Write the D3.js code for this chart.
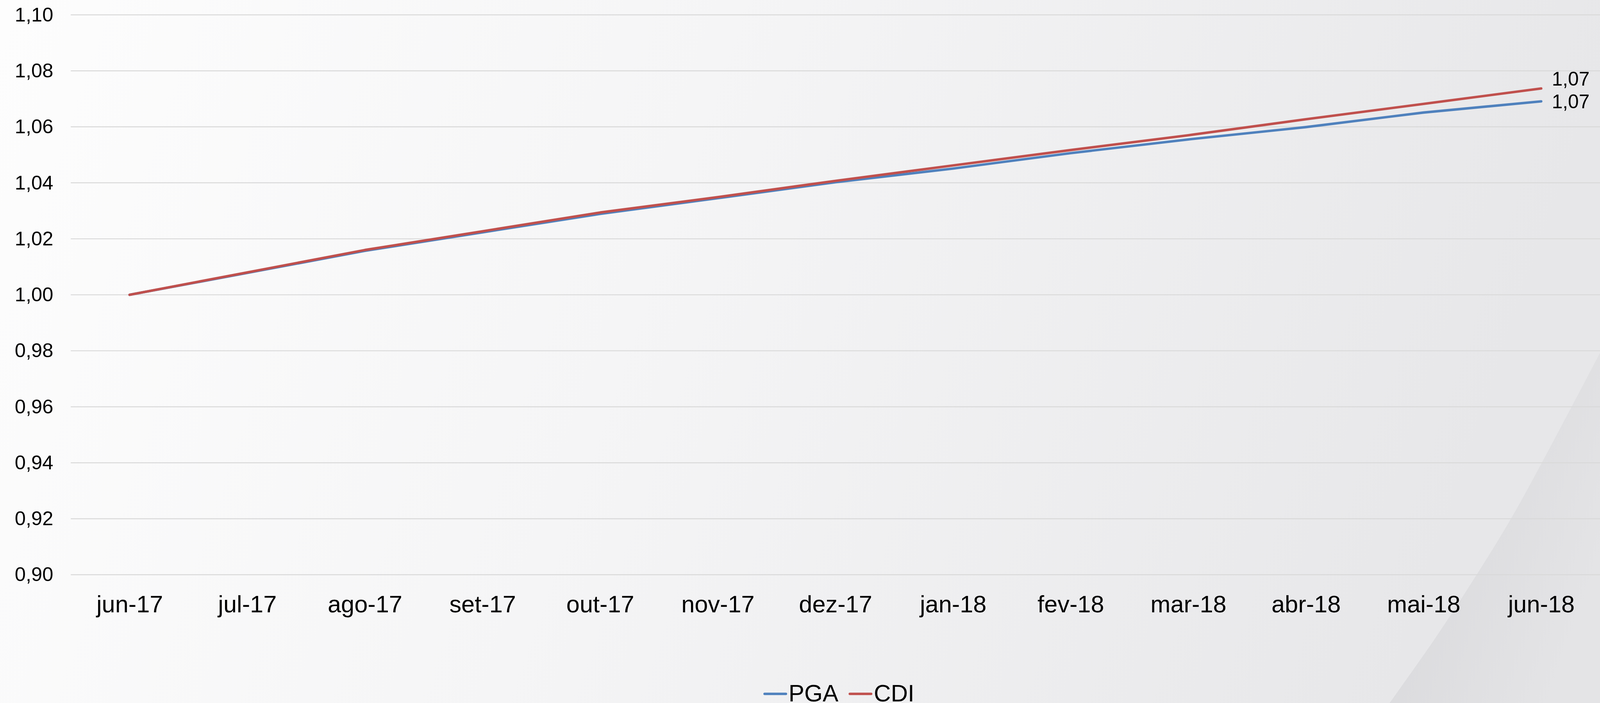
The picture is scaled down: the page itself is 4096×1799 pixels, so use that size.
<!DOCTYPE html>
<html>
<head>
<meta charset="utf-8">
<script src="https://cdn.jsdelivr.net/npm/d3@7"></script>
<style>
  html, body { margin: 0; padding: 0; overflow: hidden; background: #fff; }
  svg { display: block; }
  text { font-family: "Liberation Sans", Arial, Helvetica, sans-serif; fill: #000; }
</style>
</head>
<body>
<svg id="chart"></svg>
<script>
// ---- Data ----
const categories = ["jun-17","jul-17","ago-17","set-17","out-17","nov-17","dez-17","jan-18","fev-18","mar-18","abr-18","mai-18","jun-18"];
const pgaValues  = [1.0000, 1.0078, 1.0157, 1.0223, 1.0289, 1.0345, 1.0402, 1.0451, 1.0506, 1.0555, 1.0599, 1.0651, 1.0691];
const cdiValues  = [1.0000, 1.0080, 1.0160, 1.0227, 1.0294, 1.0349, 1.0407, 1.0462, 1.0517, 1.0570, 1.0627, 1.0682, 1.0737];
const yTicks     = [0.90, 0.92, 0.94, 0.96, 0.98, 1.00, 1.02, 1.04, 1.06, 1.08, 1.10];
const seriesNames = ["PGA", "CDI"];

// ---- Layout (reference pixel space, scaled by viewBox) ----
const W = 4206, H = 1847;
const svg = d3.select("#chart")
  .attr("width", 4096).attr("height", 1799)
  .attr("viewBox", `0 0 ${W} ${H}`)
  .attr("preserveAspectRatio", "none");

const colors = { PGA: "#4f81bd", CDI: "#c0504d" };
const plot = { left: 186, right: 4206, top: 39, bottom: 1510 };

const locale = d3.formatLocale({ decimal: ",", thousands: ".", grouping: [3], currency: ["R$", ""] });
const fmt = locale.format(".2f");

// ---- Background ----
const defs = svg.append("defs");
const bg = defs.append("linearGradient").attr("id", "bg").attr("x1", "0").attr("y1", "0").attr("x2", "1").attr("y2", "0.15");
bg.append("stop").attr("offset", "0").attr("stop-color", "#fdfdfd");
bg.append("stop").attr("offset", "0.45").attr("stop-color", "#f5f5f6");
bg.append("stop").attr("offset", "1").attr("stop-color", "#e7e7e9");
svg.append("rect").attr("width", W).attr("height", H).attr("fill", "url(#bg)");

const sw = defs.append("linearGradient").attr("id", "sw").attr("x1", "0").attr("y1", "0").attr("x2", "1").attr("y2", "0.6");
sw.append("stop").attr("offset", "0").attr("stop-color", "#d5d5d8");
sw.append("stop").attr("offset", "1").attr("stop-color", "#e4e4e6");
const swooshPts = [[3653,1847],[3770,1681],[3883,1508],[3973,1361],[4054,1214],[4206,927]];
const swLine = d3.line().curve(d3.curveCatmullRom);
svg.append("path")
  .attr("d", swLine(swooshPts) + ` L ${W},${H} Z`)
  .attr("fill", "url(#sw)");

// ---- Scales ----
const x = d3.scalePoint().domain(categories).range([plot.left, plot.right]).padding(0.5);
const y = d3.scaleLinear().domain([0.90, 1.10]).range([plot.bottom, plot.top]);

// ---- Gridlines ----
svg.append("g").selectAll("line").data(yTicks).join("line")
  .attr("x1", plot.left).attr("x2", plot.right)
  .attr("y1", d => y(d)).attr("y2", d => y(d))
  .attr("stroke", "#d9d9d9").attr("stroke-width", 2.5);

// ---- Y axis labels ----
const yAxis = d3.axisLeft(y).tickValues(yTicks).tickFormat(fmt).tickSize(0).tickPadding(0);
const gy = svg.append("g").attr("transform", `translate(140,0)`).call(yAxis);
gy.select(".domain").remove();
gy.selectAll("text").attr("font-size", 52).attr("fill", "#000")
  .attr("font-family", '"Liberation Sans", Arial, sans-serif');

// ---- X axis labels ----
const xAxis = d3.axisBottom(x).tickSize(0).tickPadding(0);
const gx = svg.append("g").attr("transform", `translate(0,${plot.bottom})`).call(xAxis);
gx.select(".domain").remove();
gx.selectAll("text").attr("font-size", 63).attr("fill", "#000").attr("dy", null).attr("y", 99)
  .attr("font-family", '"Liberation Sans", Arial, sans-serif');

// ---- Lines ----
const lineGen = d3.line().x((d, i) => x(categories[i])).y(d => y(d));
const series = [
  { name: "PGA", values: pgaValues, labelDy: 18 },
  { name: "CDI", values: cdiValues, labelDy: -8 }
];
svg.append("g").selectAll("path").data(series).join("path")
  .attr("d", d => lineGen(d.values))
  .attr("fill", "none")
  .attr("stroke", d => colors[d.name])
  .attr("stroke-width", 6.5)
  .attr("stroke-linecap", "round")
  .attr("stroke-linejoin", "round");

// ---- End data labels ----
svg.append("g").selectAll("text").data(series).join("text")
  .attr("x", d => x(categories[categories.length - 1]) + 28)
  .attr("y", d => y(d.values[d.values.length - 1]) + d.labelDy)
  .attr("font-size", 51)
  .text(d => fmt(d.values[d.values.length - 1]));

// ---- Legend ----
const legend = svg.append("g").attr("transform", "translate(2010,1823)");
const legendItems = [{ name: "PGA", x: 0 }, { name: "CDI", x: 224 }];
const li = legend.selectAll("g").data(legendItems).join("g").attr("transform", d => `translate(${d.x},0)`);
li.append("line").attr("x1", 0).attr("x2", 56).attr("y1", 0).attr("y2", 0)
  .attr("stroke", d => colors[d.name]).attr("stroke-width", 6.5).attr("stroke-linecap", "round");
li.append("text").attr("x", 63).attr("y", 20).attr("font-size", 62).text(d => d.name);
</script>
</body>
</html>
